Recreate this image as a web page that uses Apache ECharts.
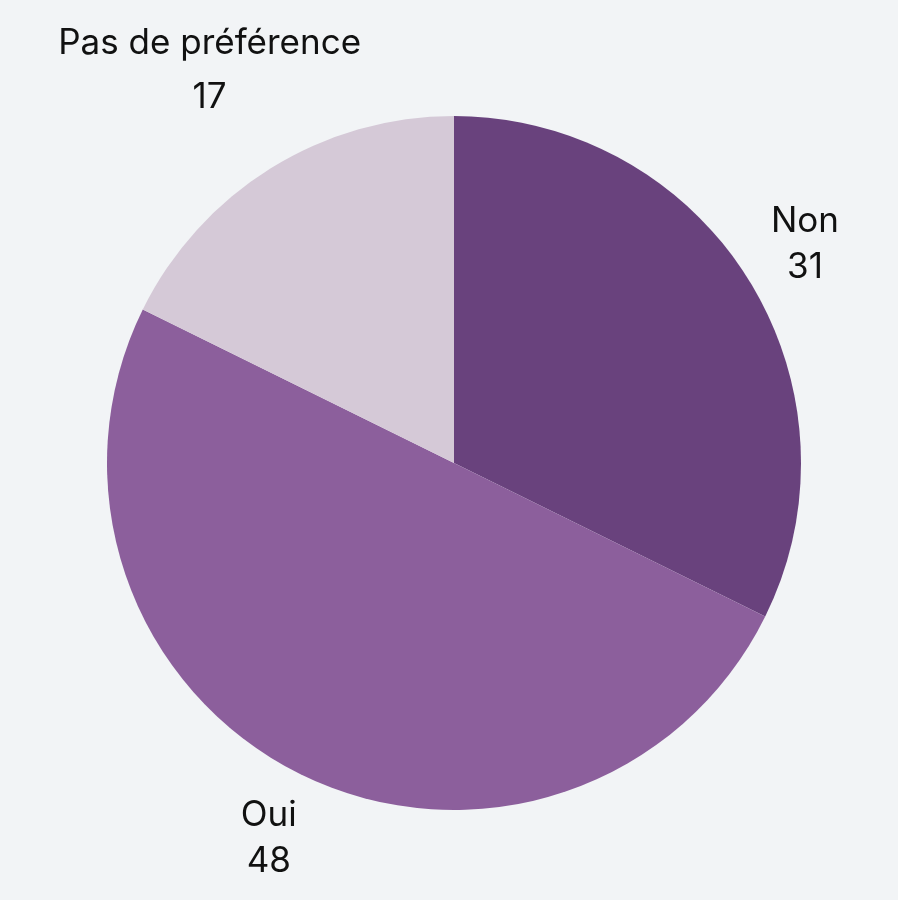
<!DOCTYPE html>
<html>
<head>
<meta charset="utf-8">
<script src="https://cdn.jsdelivr.net/npm/echarts@6/dist/echarts.min.js"></script>
<style>
html,body{margin:0;padding:0;background:#f2f4f6;}
#chart{width:898px;height:900px;}
</style>
</head>
<body>
<div id="chart"></div>
<script>
const categories = ['Non', 'Oui', 'Pas de préférence'];
const values = [31, 48, 17];
const colors = ['#69427d', '#8c5f9c', '#d5c9d7'];

// label layout tweaks (styling, not data)
const lineHeights = [46, 46, 54];
const labelGaps = [16, 23, -2];

const CX = 454, CY = 463, R = 347;
const total = values.reduce((a, b) => a + b, 0);

const chart = echarts.init(document.getElementById('chart'));
chart.setOption({
  backgroundColor: '#f2f4f6',
  animation: false,
  series: [{
    type: 'pie',
    center: [CX, CY],
    radius: [0, R],
    startAngle: 90,
    clockwise: true,
    data: categories.map((c, i) => ({
      name: c, value: values[i], itemStyle: { color: colors[i] },
      label: { rich: { t: { lineHeight: lineHeights[i] } } }
    })),
    label: {
      show: true,
      position: 'outside',
      overflow: 'none',
      width: 500,
      formatter: '{t|{b}}\n{t|{c}}',
      rich: {
        t: { align: 'center', fontFamily: 'Inter', fontSize: 35, lineHeight: 46, color: '#111111' }
      }
    },
    labelLine: { show: false },
    labelLayout: function (p) {
      let cum = 0;
      for (let i = 0; i < p.dataIndex; i++) cum += values[i];
      const mid = cum + values[p.dataIndex] / 2;
      const ang = (90 - mid / total * 360) * Math.PI / 180;
      const dx = Math.cos(ang), dy = -Math.sin(ang);
      const w = p.labelRect.width, h = p.labelRect.height;
      const sup = w / 2 * Math.abs(dx) + h / 2 * Math.abs(dy);
      const rr = R + labelGaps[p.dataIndex] + sup;
      return { x: CX + rr * dx, y: CY + rr * dy, align: 'center', verticalAlign: 'middle' };
    },
    emphasis: { disabled: true }
  }]
});
</script>
</body>
</html>
